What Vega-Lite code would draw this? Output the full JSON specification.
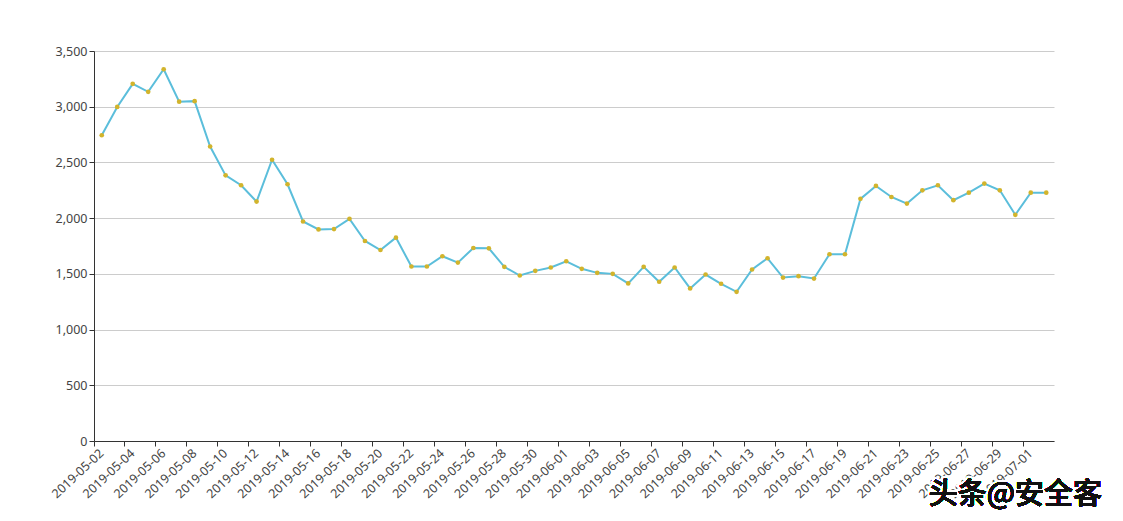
{
  "$schema": "https://vega.github.io/schema/vega-lite/v6.json",
  "width": 960,
  "height": 390,
  "autosize": "none",
  "padding": {"left": 94, "top": 51, "right": 69, "bottom": 80},
  "background": "white",
  "config": {
    "view": {"stroke": null},
    "font": "Noto Sans"
  },
  "data": {
    "values": [
      {"date": "2019-05-02", "value": 2744},
      {"date": "2019-05-03", "value": 2998},
      {"date": "2019-05-04", "value": 3205},
      {"date": "2019-05-05", "value": 3134},
      {"date": "2019-05-06", "value": 3336},
      {"date": "2019-05-07", "value": 3045},
      {"date": "2019-05-08", "value": 3050},
      {"date": "2019-05-09", "value": 2643},
      {"date": "2019-05-10", "value": 2384},
      {"date": "2019-05-11", "value": 2295},
      {"date": "2019-05-12", "value": 2149},
      {"date": "2019-05-13", "value": 2524},
      {"date": "2019-05-14", "value": 2304},
      {"date": "2019-05-15", "value": 1970},
      {"date": "2019-05-16", "value": 1899},
      {"date": "2019-05-17", "value": 1902},
      {"date": "2019-05-18", "value": 1994},
      {"date": "2019-05-19", "value": 1795},
      {"date": "2019-05-20", "value": 1714},
      {"date": "2019-05-21", "value": 1825},
      {"date": "2019-05-22", "value": 1566},
      {"date": "2019-05-23", "value": 1566},
      {"date": "2019-05-24", "value": 1658},
      {"date": "2019-05-25", "value": 1601},
      {"date": "2019-05-26", "value": 1732},
      {"date": "2019-05-27", "value": 1729},
      {"date": "2019-05-28", "value": 1563},
      {"date": "2019-05-29", "value": 1485},
      {"date": "2019-05-30", "value": 1527},
      {"date": "2019-05-31", "value": 1557},
      {"date": "2019-06-01", "value": 1613},
      {"date": "2019-06-02", "value": 1545},
      {"date": "2019-06-03", "value": 1509},
      {"date": "2019-06-04", "value": 1500},
      {"date": "2019-06-05", "value": 1414},
      {"date": "2019-06-06", "value": 1563},
      {"date": "2019-06-07", "value": 1429},
      {"date": "2019-06-08", "value": 1557},
      {"date": "2019-06-09", "value": 1369},
      {"date": "2019-06-10", "value": 1494},
      {"date": "2019-06-11", "value": 1411},
      {"date": "2019-06-12", "value": 1339},
      {"date": "2019-06-13", "value": 1539},
      {"date": "2019-06-14", "value": 1640},
      {"date": "2019-06-15", "value": 1467},
      {"date": "2019-06-16", "value": 1479},
      {"date": "2019-06-17", "value": 1458},
      {"date": "2019-06-18", "value": 1676},
      {"date": "2019-06-19", "value": 1676},
      {"date": "2019-06-20", "value": 2173},
      {"date": "2019-06-21", "value": 2289},
      {"date": "2019-06-22", "value": 2190},
      {"date": "2019-06-23", "value": 2131},
      {"date": "2019-06-24", "value": 2250},
      {"date": "2019-06-25", "value": 2295},
      {"date": "2019-06-26", "value": 2161},
      {"date": "2019-06-27", "value": 2229},
      {"date": "2019-06-28", "value": 2310},
      {"date": "2019-06-29", "value": 2250},
      {"date": "2019-06-30", "value": 2030},
      {"date": "2019-07-01", "value": 2229},
      {"date": "2019-07-02", "value": 2229}
    ]
  },
  "encoding": {
    "x": {
      "field": "date",
      "type": "ordinal",
      "sort": null,
      "scale": {"type": "band", "paddingInner": 0, "paddingOuter": 0},
      "axis": {
        "title": null,
        "values": ["2019-05-02","2019-05-04","2019-05-06","2019-05-08","2019-05-10","2019-05-12","2019-05-14","2019-05-16","2019-05-18","2019-05-20","2019-05-22","2019-05-24","2019-05-26","2019-05-28","2019-05-30","2019-06-01","2019-06-03","2019-06-05","2019-06-07","2019-06-09","2019-06-11","2019-06-13","2019-06-15","2019-06-17","2019-06-19","2019-06-21","2019-06-23","2019-06-25","2019-06-27","2019-06-29","2019-07-01"],
        "bandPosition": 0,
        "labelAngle": -43,
        "labelAlign": "right",
        "labelBaseline": "middle",
        "labelOffset": 0,
        "labelPadding": 5,
        "labelFontSize": 12.5,
        "labelColor": "#444",
        "labelOverlap": false,
        "labelBound": false,
        "tickColor": "#333",
        "tickSize": 5,
        "domainColor": "#333",
        "grid": false
      }
    },
    "y": {
      "field": "value",
      "type": "quantitative",
      "scale": {"domain": [0, 3500], "nice": false, "zero": true},
      "axis": {
        "title": null,
        "values": [0, 500, 1000, 1500, 2000, 2500, 3000, 3500],
        "format": ",.0f",
        "labelFontSize": 12.5,
        "labelColor": "#444",
        "labelPadding": 2,
        "tickColor": "#333",
        "tickSize": 5,
        "domainColor": "#333",
        "grid": true,
        "gridColor": "#cccccc"
      }
    }
  },
  "layer": [
    {
      "mark": {"type": "line", "color": "#5bbedb", "strokeWidth": 2}
    },
    {
      "mark": {"type": "point", "filled": true, "color": "#d2b42c", "opacity": 1, "size": 22}
    },
    {
      "mark": {"type": "text", "text": "头条@安全客", "font": "Noto Sans CJK SC", "fontSize": 29, "fontWeight": 500, "align": "center", "baseline": "middle", "stroke": "white", "strokeWidth": 4, "fill": "white"},
      "encoding": {
        "x": {"datum": "2019-06-30"},
        "y": {"datum": -485}
      }
    },
    {
      "mark": {"type": "text", "text": "头条@安全客", "font": "Noto Sans CJK SC", "fontSize": 29, "fontWeight": 500, "align": "center", "baseline": "middle", "fill": "#111"},
      "encoding": {
        "x": {"datum": "2019-06-30"},
        "y": {"datum": -485}
      }
    }
  ]
}
